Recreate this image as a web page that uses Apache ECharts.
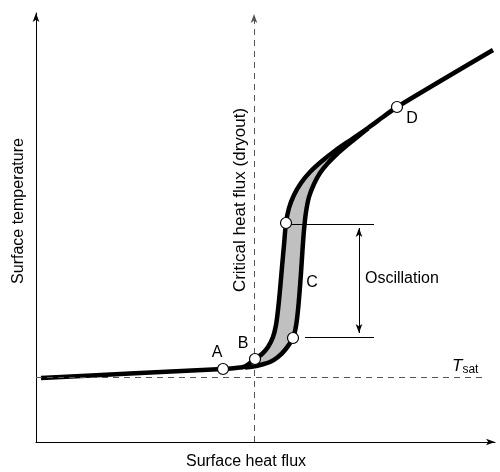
<!DOCTYPE html>
<html><head><meta charset="utf-8">
<script src="https://cdn.jsdelivr.net/npm/echarts@6/dist/echarts.min.js"></script>
<style>html,body{margin:0;padding:0;background:#fff}#c{width:500px;height:472px}</style>
</head><body><div id="c"></div>
<script>
// Schematic units: x = surface heat flux, y = surface temperature (0 at the axes' origin)
const xMax = 459;
const yMax = 429;
const tSat = 65;          // saturation temperature level
const qCritical = 218;    // critical heat flux (dryout)

// Upper / main boiling curve (start -> A -> B -> upper oscillation limit -> D -> end)
const boilingCurve = [
  [5,64],[94,68.5],[187,73],[204,74.5],[209,75.5],[219,83],[226,88],[232,95],[237,105],
  [240,117],[242,132],[244,152],[246,175],[248,197],[250,219],[253,234],[258,247],
  [265,259],[274,270],[286,281],[300,292],[316,303],[332,314],[347,325],[361,335],[457,392]
];
// Lower oscillation limit (from B region through lower C point, merging before D)
const lowerCurve = [
  [209,74.5],[217,75.5],[226,77.5],[234,80],[242,85],[249,92],[257,104],[260,116],
  [262,132],[263.5,149],[265,169],[266.5,192],[268,212],[270,230],[273,245],[278,258],
  [284,269],[292,279],[301,288],[309,295],[317,301.5],[325,308],[332,313.5]
];
// Marked states
const markerNames = ['A','B','C-upper','C-lower','D'];
const markerPoints = [[187,73],[219,83],[250,219],[257,104],[361,335]];
// Oscillation bracket levels
const oscTop = 218, oscBottom = 105;
const oscTopStart = 254, oscBottomStart = 269, oscEnd = 338, oscArrowX = 323;

// Gray band between the two curves
const upperBand = boilingCurve.slice(5, 23);
const fillOutline = upperBand.concat(lowerCurve.slice(1).reverse());

const FONT = '"Liberation Sans", Arial, sans-serif';
const chart = echarts.init(document.getElementById('c'), null, {renderer: 'canvas'});

const labelStyle = {show: true, formatter: '{b}', color: '#000', fontSize: 16, fontFamily: FONT};
const labelOffsets = {'A': [-6,-16], 'B': [-12,-15], 'C-lower': [19,-55], 'D': [15,12]};
const labelText = {'A':'A','B':'B','C-lower':'C','D':'D'};

chart.setOption({
  animation: false,
  grid: {left: 36, right: 5, top: 13, bottom: 30},
  xAxis: {
    type: 'value', min: 0, max: xMax,
    axisLine: {show: true, onZero: false, symbol: ['none','arrow'], symbolSize: [5, 9],
      lineStyle: {color: '#000', width: 1}},
    axisTick: {show: false}, axisLabel: {show: false}, splitLine: {show: false}
  },
  yAxis: {
    type: 'value', min: 0, max: yMax,
    axisLine: {show: true, onZero: false, symbol: ['none','arrow'], symbolSize: [5, 9],
      lineStyle: {color: '#000', width: 1}},
    axisTick: {show: false}, axisLabel: {show: false}, splitLine: {show: false}
  },
  series: [
    {
      type: 'custom', coordinateSystem: 'cartesian2d', silent: true, z: 1,
      data: [[0,0]],
      renderItem: function (params, api) {
        const pts = fillOutline.map(p => api.coord(p));
        return {type: 'polygon', shape: {points: pts, smooth: 0.3},
          style: {fill: '#c0c0c0', stroke: null}};
      }
    },
    {
      type: 'line', name: 'boiling', data: boilingCurve, smooth: 0.3, symbol: 'none', z: 3,
      lineStyle: {color: '#000', width: 4.5}, silent: true
    },
    {
      type: 'line', name: 'lower', data: lowerCurve, smooth: 0.3, symbol: 'none', z: 3,
      lineStyle: {color: '#000', width: 4.5}, silent: true
    },
    {
      type: 'line', name: 'refs', data: [], z: 2, silent: true,
      markLine: {
        silent: true, animation: false, symbol: 'none', label: {show: false},
        data: [
          [{coord: [0, tSat], lineStyle: {type: [6,5], color: '#555', width: 1}},
           {coord: [449, tSat]}],
          [{coord: [qCritical, 0], symbol: 'none', lineStyle: {type: [6,5], color: '#555', width: 1}},
           {coord: [qCritical, 428], symbol: 'arrow', symbolSize: [5, 9]}],
          [{coord: [oscTopStart, oscTop], lineStyle: {type: 'solid', color: '#000', width: 1}},
           {coord: [oscEnd, oscTop]}],
          [{coord: [oscBottomStart, oscBottom], lineStyle: {type: 'solid', color: '#000', width: 1}},
           {coord: [oscEnd, oscBottom]}],
          [{coord: [oscArrowX, oscBottom + 4], symbol: 'arrow', symbolSize: [5, 9],
             lineStyle: {type: 'solid', color: '#000', width: 1}},
           {coord: [oscArrowX, oscTop - 4], symbol: 'arrow', symbolSize: [5, 9]}]
        ]
      }
    },
    {
      type: 'scatter', z: 5, silent: true,
      symbolSize: 11,
      itemStyle: {color: '#fff', borderColor: '#000', borderWidth: 1.2, opacity: 1},
      data: markerPoints.map((p, i) => {
        const n = markerNames[i];
        const item = {name: n, value: p};
        if (labelOffsets[n]) {
          item.label = Object.assign({}, labelStyle, {position: 'inside', offset: labelOffsets[n],
            formatter: labelText[n]});
        }
        return item;
      })
    }
  ],
  graphic: [
    {type: 'text', x: 19, y: 211, rotation: Math.PI / 2,
      style: {text: 'Surface temperature', font: '16px ' + FONT, fill: '#000', align: 'center', verticalAlign: 'middle'}},
    {type: 'text', x: 240, y: 200, rotation: Math.PI / 2,
      style: {text: 'Critical heat flux (dryout)', font: '17px ' + FONT, fill: '#000', align: 'center', verticalAlign: 'middle'}},
    {type: 'text', x: 246, y: 462,
      style: {text: 'Surface heat flux', font: '16px ' + FONT, fill: '#000', align: 'center', verticalAlign: 'middle'}},
    {type: 'text', x: 365, y: 279,
      style: {text: 'Oscillation', font: '16px ' + FONT, fill: '#000', align: 'left', verticalAlign: 'middle'}},
    {type: 'text', x: 452, y: 366,
      style: {text: '{t|T}{s|sat}', align: 'left', verticalAlign: 'middle',
        rich: {t: {fontSize: 17, fontStyle: 'italic', fontFamily: FONT, fill: '#000', color: '#000'},
               s: {fontSize: 12, fontFamily: FONT, fill: '#000', color: '#000', padding: [8,0,0,0]}}}}
  ]
});
</script>
</body></html>
